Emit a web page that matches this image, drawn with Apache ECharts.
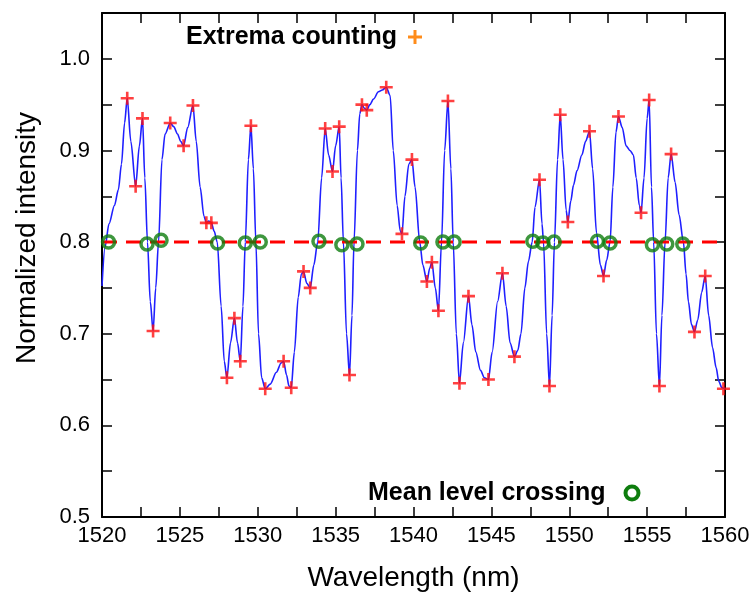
<!DOCTYPE html>
<html>
<head>
<meta charset="utf-8">
<script src="https://cdn.jsdelivr.net/npm/echarts@6/dist/echarts.min.js"></script>
<style>
  html, body { margin: 0; padding: 0; background: #fff; }
  #chart { width: 750px; height: 594px; }
</style>
</head>
<body>
<div id="chart"></div>
<script>
// ---- Data ----
const curveWavelength = [
  1520.00, 1520.20, 1520.45, 1520.80, 1521.05, 1521.25, 1521.45, 1521.62, 1521.85, 1522.16,
  1522.40, 1522.60, 1522.75, 1522.92, 1523.10, 1523.28, 1523.45, 1523.63, 1523.85, 1524.05,
  1524.38, 1524.60, 1524.85, 1525.05, 1525.24, 1525.50, 1525.84, 1526.05, 1526.30, 1526.55,
  1526.70, 1526.85, 1527.02, 1527.20, 1527.40, 1527.65, 1527.85, 1528.02, 1528.25, 1528.50,
  1528.70, 1528.88, 1529.05, 1529.20, 1529.40, 1529.56, 1529.72, 1529.88, 1530.05, 1530.25,
  1530.48, 1530.80, 1531.20, 1531.50, 1531.66, 1531.85, 1532.00, 1532.15, 1532.35, 1532.60,
  1532.80, 1532.94, 1533.15, 1533.37, 1533.60, 1533.85, 1534.10, 1534.33, 1534.55, 1534.80,
  1535.00, 1535.23, 1535.35, 1535.50, 1535.70, 1535.89, 1536.05, 1536.18, 1536.40, 1536.55,
  1536.69, 1536.85, 1537.00, 1537.20, 1537.43, 1537.75, 1538.00, 1538.25, 1538.50, 1538.70,
  1538.95, 1539.15, 1539.26, 1539.45, 1539.70, 1539.90, 1540.10, 1540.40, 1540.60, 1540.86,
  1541.05, 1541.18, 1541.40, 1541.60, 1541.80, 1542.00, 1542.21, 1542.40, 1542.55, 1542.75,
  1542.95, 1543.20, 1543.53, 1543.75, 1544.00, 1544.30, 1544.55, 1544.81, 1545.05, 1545.40,
  1545.71, 1545.95, 1546.20, 1546.48, 1546.70, 1546.90, 1547.15, 1547.38, 1547.62, 1547.80,
  1548.09, 1548.25, 1548.35, 1548.55, 1548.73, 1548.90, 1549.05, 1549.25, 1549.42, 1549.60,
  1549.80, 1549.91, 1550.10, 1550.27, 1550.50, 1550.81, 1551.05, 1551.30, 1551.50, 1551.75,
  1552.00, 1552.20, 1552.40, 1552.62, 1552.80, 1553.00, 1553.16, 1553.40, 1553.65, 1553.90,
  1554.12, 1554.30, 1554.50, 1554.61, 1554.80, 1555.00, 1555.13, 1555.28, 1555.42, 1555.60,
  1555.79, 1555.95, 1556.15, 1556.35, 1556.54, 1556.80, 1557.05, 1557.33, 1557.50, 1557.65,
  1557.85, 1558.04, 1558.25, 1558.50, 1558.73, 1558.95, 1559.20, 1559.43, 1559.60, 1559.80,
  1560.00
];
const curveIntensity = [
  0.752, 0.795, 0.820, 0.840, 0.857, 0.885, 0.930, 0.957, 0.910, 0.861,
  0.905, 0.935, 0.870, 0.800, 0.735, 0.703, 0.750, 0.800, 0.890, 0.918,
  0.930, 0.926, 0.918, 0.910, 0.905, 0.925, 0.949, 0.910, 0.860, 0.828,
  0.821, 0.823, 0.821, 0.812, 0.800, 0.730, 0.670, 0.652, 0.690, 0.717,
  0.690, 0.670, 0.730, 0.800, 0.890, 0.927, 0.880, 0.800, 0.700, 0.652,
  0.640, 0.645, 0.658, 0.668, 0.670, 0.655, 0.643, 0.641, 0.680, 0.740,
  0.765, 0.768, 0.755, 0.750, 0.775, 0.800, 0.870, 0.924, 0.895, 0.877,
  0.905, 0.926, 0.870, 0.800, 0.700, 0.655, 0.720, 0.800, 0.900, 0.940,
  0.950, 0.946, 0.944, 0.950, 0.956, 0.964, 0.966, 0.969, 0.960, 0.900,
  0.840, 0.812, 0.809, 0.850, 0.885, 0.890, 0.860, 0.800, 0.775, 0.757,
  0.772, 0.778, 0.750, 0.725, 0.800, 0.900, 0.954, 0.880, 0.800, 0.700,
  0.646, 0.690, 0.741, 0.710, 0.680, 0.660, 0.652, 0.650, 0.680, 0.735,
  0.766, 0.730, 0.690, 0.675, 0.682, 0.700, 0.750, 0.779, 0.800, 0.838,
  0.868, 0.820, 0.800, 0.700, 0.643, 0.720, 0.800, 0.890, 0.939, 0.890,
  0.835, 0.822, 0.845, 0.862, 0.878, 0.895, 0.910, 0.921, 0.880, 0.810,
  0.775, 0.763, 0.780, 0.800, 0.860, 0.920, 0.937, 0.925, 0.905, 0.900,
  0.895, 0.870, 0.840, 0.832, 0.870, 0.935, 0.955, 0.860, 0.800, 0.700,
  0.643, 0.720, 0.800, 0.870, 0.896, 0.865, 0.830, 0.800, 0.765, 0.735,
  0.710, 0.702, 0.715, 0.745, 0.763, 0.720, 0.685, 0.663, 0.648, 0.641,
  0.640
];
const extremaWavelength = [
  1521.62, 1522.16, 1522.60, 1523.28, 1524.38, 1525.24, 1525.84, 1526.70, 1527.02, 1528.02,
  1528.50, 1528.88, 1529.56, 1530.48, 1531.66, 1532.15, 1532.94, 1533.37, 1534.33, 1534.80,
  1535.23, 1535.89, 1536.69, 1537.00, 1538.25, 1539.26, 1539.90, 1540.86, 1541.18, 1541.60,
  1542.21, 1542.95, 1543.53, 1544.81, 1545.71, 1546.48, 1548.09, 1548.73, 1549.42, 1549.91,
  1551.30, 1552.20, 1553.16, 1554.61, 1555.13, 1555.79, 1556.54, 1558.04, 1558.73, 1559.90
];
const extremaIntensity = [
  0.957, 0.861, 0.935, 0.703, 0.930, 0.905, 0.949, 0.821, 0.821, 0.652,
  0.717, 0.670, 0.927, 0.640, 0.670, 0.641, 0.768, 0.750, 0.924, 0.877,
  0.926, 0.655, 0.950, 0.944, 0.969, 0.809, 0.890, 0.757, 0.778, 0.725,
  0.954, 0.646, 0.741, 0.650, 0.766, 0.675, 0.868, 0.643, 0.939, 0.822,
  0.921, 0.763, 0.937, 0.832, 0.955, 0.643, 0.896, 0.702, 0.763, 0.640
];
const crossingWavelength = [
  1520.42, 1522.89, 1523.79, 1527.42, 1529.20, 1530.16, 1533.93, 1535.40, 1536.37, 1540.46,
  1541.89, 1542.61, 1547.66, 1548.31, 1549.03, 1551.81, 1552.62, 1555.34, 1556.26, 1557.29
];
const crossingIntensity = [
  0.800, 0.798, 0.802, 0.799, 0.799, 0.800, 0.801, 0.797, 0.798, 0.799,
  0.800, 0.800, 0.801, 0.799, 0.800, 0.801, 0.799, 0.797, 0.798, 0.798
];
const meanLevel = 0.8;
const xRange = [1520, 1560];
const yRange = [0.5, 1.05];
const xLabelStep = 5;
const yLabelStep = 0.1;

// ---- Chart ----
const zip = (a, b) => a.map((v, i) => [v, b[i]]);
const FONT = '"Liberation Sans", Arial, Helvetica, sans-serif';
const PLUS = 'path://M4,0H6V4H10V6H6V10H4V6H0V4H4Z';

const axisLineStyle = { show: true, onZero: false, lineStyle: { color: '#000', width: 2 } };
const tickStyle = { show: true, inside: true, length: 10, lineStyle: { color: '#000', width: 1.5 } };

const xFmt = v => (Math.abs(Math.round(v * 100) % (xLabelStep * 100)) === 0 ? String(Math.round(v)) : '');
const yFmt = v => {
  const k = Math.round(v * 100);
  return k % Math.round(yLabelStep * 100) === 0 ? (k / 100).toFixed(1) : '';
};

const chart = echarts.init(document.getElementById('chart'), null, { renderer: 'canvas' });
chart.setOption({
  animation: false,
  backgroundColor: '#fff',
  grid: { left: 102, right: 25, top: 13, bottom: 77, containLabel: false, outerBoundsMode: 'none' },
  xAxis: [
    {
      type: 'value', position: 'bottom', min: xRange[0], max: xRange[1], interval: 2.5,
      axisLine: axisLineStyle, axisTick: tickStyle, splitLine: { show: false },
      axisLabel: { formatter: xFmt, color: '#000', fontSize: 22, fontFamily: FONT, margin: 8 },
      name: 'Wavelength (nm)', nameLocation: 'middle', nameGap: 47,
      nameTextStyle: { color: '#000', fontSize: 28, fontFamily: FONT }
    },
    {
      type: 'value', position: 'top', min: xRange[0], max: xRange[1], interval: 2.5,
      axisLine: axisLineStyle, axisTick: tickStyle, splitLine: { show: false },
      axisLabel: { show: false }
    }
  ],
  yAxis: [
    {
      type: 'value', position: 'left', min: yRange[0], max: yRange[1], interval: 0.05,
      axisLine: axisLineStyle, axisTick: tickStyle, splitLine: { show: false },
      axisLabel: { formatter: yFmt, color: '#000', fontSize: 22, fontFamily: FONT, margin: 12 }
    },
    {
      type: 'value', position: 'right', min: yRange[0], max: yRange[1], interval: 0.05,
      axisLine: axisLineStyle, axisTick: tickStyle, splitLine: { show: false },
      axisLabel: { show: false }
    }
  ],
  series: [
    {
      type: 'line', name: 'signal', data: zip(curveWavelength, curveIntensity),
      showSymbol: false, symbol: 'none', smooth: 0.3, smoothMonotone: 'x',
      lineStyle: { color: '#1f1fff', width: 1.6 }, z: 2, silent: true
    },
    {
      type: 'line', name: 'mean', data: [[xRange[0], meanLevel], [xRange[1], meanLevel]],
      symbol: 'none', lineStyle: { color: '#ff0000', width: 3, type: [15, 9] }, z: 3, silent: true
    },
    {
      type: 'scatter', name: 'Extrema counting', data: zip(extremaWavelength, extremaIntensity),
      symbol: PLUS, symbolSize: 13, itemStyle: { color: '#ff1010' }, z: 4, silent: true
    },
    {
      type: 'scatter', name: 'Mean level crossing', data: zip(crossingWavelength, crossingIntensity),
      symbol: 'circle', symbolSize: 12,
      itemStyle: { color: 'rgba(0,0,0,0)', borderColor: '#0e7d0e', borderWidth: 3.5 }, z: 5, silent: true
    }
  ],
  graphic: [
    {
      type: 'text', x: 27, y: 238, rotation: Math.PI / 2,
      style: { text: 'Normalized intensity', font: '28px ' + FONT, fill: '#000',
               textAlign: 'center', textVerticalAlign: 'middle' }
    },
    {
      type: 'text', x: 186, y: 37,
      style: { text: 'Extrema counting', font: 'bold 25px ' + FONT, fill: '#000',
               textAlign: 'left', textVerticalAlign: 'middle' }
    },
    { type: 'rect', shape: { x: 408, y: 35.5, width: 14, height: 3 }, style: { fill: '#ff8c1a' } },
    { type: 'rect', shape: { x: 413.5, y: 30, width: 3, height: 14 }, style: { fill: '#ff8c1a' } },
    {
      type: 'text', x: 368, y: 493,
      style: { text: 'Mean level crossing', font: 'bold 25px ' + FONT, fill: '#000',
               textAlign: 'left', textVerticalAlign: 'middle' }
    },
    {
      type: 'circle', shape: { cx: 632, cy: 493, r: 6.5 },
      style: { fill: 'rgba(0,0,0,0)', stroke: '#0e7d0e', lineWidth: 4 }
    }
  ]
});
</script>
</body>
</html>
